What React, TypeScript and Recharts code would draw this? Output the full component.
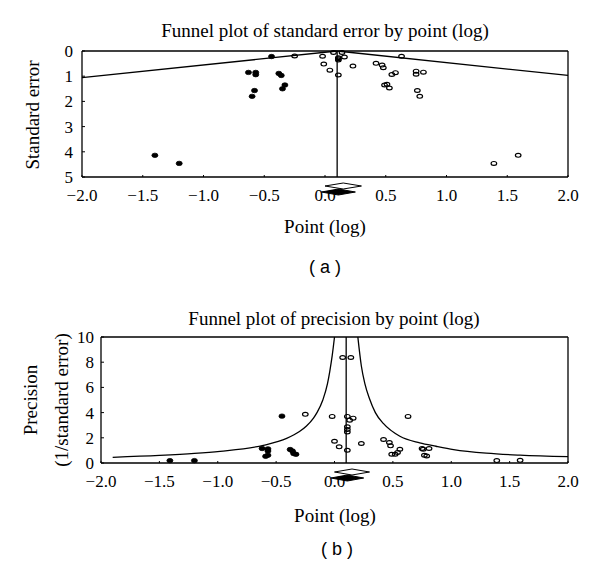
import React from "react";
import { ComposedChart, Scatter, XAxis, YAxis, ReferenceLine } from "recharts";

// panel (a): point (log) vs standard error
const seObserved: [number, number][] = [
  [-0.25, 0.2], [-0.02, 0.21], [0.07, 0.06], [0.14, 0.06], [0.16, 0.24],
  [0.11, 0.27], [0.11, 0.31], [0.11, 0.36], [0.63, 0.21], [-0.01, 0.52],
  [0.04, 0.76], [0.11, 0.95], [0.23, 0.6], [0.42, 0.49], [0.47, 0.56],
  [0.48, 0.66], [0.55, 0.93], [0.58, 0.86], [0.75, 0.8], [0.75, 0.92],
  [0.81, 0.84], [0.49, 1.35], [0.51, 1.32], [0.53, 1.47], [0.76, 1.57],
  [0.78, 1.8], [1.39, 4.46], [1.59, 4.14],
];
const seImputed: [number, number][] = [
  [-0.44, 0.22], [-0.63, 0.85], [-0.57, 0.85], [-0.57, 0.94], [-0.38, 0.89],
  [-0.36, 0.97], [-0.33, 1.35], [-0.35, 1.5], [-0.58, 1.57], [-0.6, 1.8],
  [-1.4, 4.14], [-1.2, 4.46],
];
const seFunnelLeft: [number, number][] = [[-2.0, 1.06], [0.1, 0]];
const seFunnelRight: [number, number][] = [[0.1, 0], [2.0, 0.97]];

// panel (b): point (log) vs precision
const precObserved: [number, number][] = [
  [0.07, 8.37], [0.14, 8.37], [-0.25, 3.86], [-0.02, 3.7], [0.11, 3.7],
  [0.16, 3.56], [0.13, 3.4], [0.63, 3.7], [0.11, 2.87], [0.11, 2.66],
  [0.11, 2.47], [0.0, 1.73], [0.04, 1.28], [0.11, 1.01], [0.23, 1.55],
  [0.42, 1.87], [0.47, 1.63], [0.48, 1.36], [0.49, 0.69], [0.52, 0.69],
  [0.54, 0.83], [0.56, 1.09], [0.75, 1.15], [0.76, 1.09], [0.81, 1.15],
  [0.77, 0.61], [0.79, 0.55], [1.39, 0.19], [1.59, 0.21],
];
const precImputed: [number, number][] = [
  [-0.45, 3.72], [-0.62, 1.15], [-0.57, 1.12], [-0.57, 0.95], [-0.59, 0.53],
  [-0.57, 0.62], [-0.38, 1.07], [-0.36, 0.95], [-0.33, 0.69], [-0.35, 0.75],
  [-1.41, 0.19], [-1.2, 0.19],
];
const precFunnelLeft: [number, number][] = [
  [-1.9, 0.45], [-1.5, 0.6], [-1.2, 0.76], [-0.98, 0.93], [-0.61, 1.4],
  [-0.41, 1.95], [-0.3, 2.5], [-0.24, 2.94], [-0.18, 3.57], [-0.15, 4.0],
  [-0.1, 5.0], [-0.06, 6.3], [-0.04, 7.3], [-0.02, 8.5], [0.0, 10],
];
const precFunnelRight: [number, number][] = [
  [0.2, 10], [0.23, 7.7], [0.26, 6.3], [0.3, 5.1], [0.35, 4.0], [0.42, 3.12],
  [0.56, 2.12], [0.73, 1.6], [0.87, 1.33], [1.02, 1.07], [1.3, 0.78],
  [1.59, 0.62], [2.0, 0.5],
];

// summary diamonds [lower, estimate, upper]
const pooledObserved = [0.0, 0.15, 0.3];
const pooledAdjusted = [-0.03, 0.11, 0.25];
const pooledLine = 0.1;

const xTicks = [-2, -1.5, -1, -0.5, 0, 0.5, 1, 1.5, 2];
const seTicks = [0, 1, 2, 3, 4, 5];
const precTicks = [0, 2, 4, 6, 8, 10];

const SERIF = "'Liberation Serif', 'Times New Roman', serif";
const SANS = "'Liberation Sans', Arial, sans-serif";

const pts = (arr: [number, number][]) => arr.map(([x, y]) => ({ x, y }));
const fmtX = (v: number) => (v < 0 ? `\u2212${Math.abs(v).toFixed(1)}` : v.toFixed(1));

const OpenDot = (p: any) => (
  <ellipse cx={p.cx} cy={p.cy} rx={2.8} ry={1.9} fill="none" stroke="#000" strokeWidth={1.2} />
);
const FilledDot = (p: any) => (
  <ellipse cx={p.cx} cy={p.cy} rx={3} ry={2.2} fill="#000" stroke="#000" strokeWidth={0.8} />
);
const NoDot = () => <g />;

function diamond(offset: number, filled: boolean) {
  return (props: any) => {
    const p = props.points;
    if (!p || p.length < 3) return <g />;
    const y = p[0].y + offset;
    const h = 3;
    return (
      <polygon
        points={`${p[0].x},${y} ${p[1].x},${y - h} ${p[2].x},${y} ${p[1].x},${y + h}`}
        fill={filled ? "#000" : "#fff"}
        stroke="#000"
        strokeWidth={1}
      />
    );
  };
}

const lineStyle = { stroke: "#000", strokeWidth: 1.3 };

function Label({ x, y, size = 19, rotate = false, font = SERIF, children }: any) {
  return (
    <div
      style={{
        position: "absolute",
        left: x,
        top: y,
        transform: `translate(-50%, -50%)${rotate ? " rotate(-90deg)" : ""}`,
        fontFamily: font,
        fontSize: size,
        lineHeight: 1,
        whiteSpace: "pre",
        color: "#000",
      }}
    >
      {children}
    </div>
  );
}

function Panel({
  yDomain, yTicks, reversed, yWidth, yTickMargin, observed, imputed, left, right, smooth, baseY,
}: any) {
  return (
    <ComposedChart width={600} height={285} margin={{ top: 52, right: 32, bottom: 77, left: 0 }}>
      <XAxis
        type="number"
        dataKey="x"
        domain={[-2, 2]}
        ticks={xTicks}
        interval={0}
        tickFormatter={fmtX}
        height={30}
        tickSize={-2}
        tickMargin={14}
        axisLine={lineStyle}
        tickLine={{ stroke: "#000" }}
        tick={{ fill: "#000", fontSize: 17, fontFamily: SERIF }}
      />
      <YAxis
        type="number"
        dataKey="y"
        domain={yDomain}
        ticks={yTicks}
        interval={0}
        reversed={reversed}
        width={yWidth}
        tickSize={-3}
        tickMargin={yTickMargin}
        axisLine={lineStyle}
        tickLine={{ stroke: "#000" }}
        tick={{ fill: "#000", fontSize: 17, fontFamily: SERIF }}
      />
      <ReferenceLine y={reversed ? yDomain[0] : yDomain[1]} stroke="#000" strokeWidth={1.3} />
      <ReferenceLine x={2} stroke="#000" strokeWidth={1.3} />
      <ReferenceLine x={pooledLine} stroke="#000" strokeWidth={1.3} />
      <Scatter data={pts(left)} shape={NoDot} line={lineStyle} lineJointType={smooth ? "monotoneX" : "linear"} isAnimationActive={false} />
      <Scatter data={pts(right)} shape={NoDot} line={lineStyle} lineJointType={smooth ? "monotoneX" : "linear"} isAnimationActive={false} />
      <Scatter data={pts(observed)} shape={OpenDot} isAnimationActive={false} />
      <Scatter data={pts(imputed)} shape={FilledDot} isAnimationActive={false} />
      <Scatter
        data={pooledObserved.map((x) => ({ x, y: baseY }))}
        shape={NoDot}
        line={diamond(9, false)}
        isAnimationActive={false}
      />
      <Scatter
        data={pooledAdjusted.map((x) => ({ x, y: baseY }))}
        shape={NoDot}
        line={diamond(15, true)}
        isAnimationActive={false}
      />
    </ComposedChart>
  );
}

export default function App() {
  return (
    <div style={{ position: "absolute", left: 0, top: 0, width: 600, height: 570, background: "#fff" }}>
      <div style={{ position: "absolute", left: 0, top: -1 }}>
        <Panel
          yDomain={[0, 5]}
          yTicks={seTicks}
          reversed
          yWidth={82}
          yTickMargin={12}
          observed={seObserved}
          imputed={seImputed}
          left={seFunnelLeft}
          right={seFunnelRight}
          smooth={false}
          baseY={5}
        />
      </div>
      <div style={{ position: "absolute", left: 0, top: 285 }}>
        <Panel
          yDomain={[0, 10]}
          yTicks={precTicks}
          reversed={false}
          yWidth={101}
          yTickMargin={10}
          observed={precObserved}
          imputed={precImputed}
          left={precFunnelLeft}
          right={precFunnelRight}
          smooth
          baseY={0}
        />
      </div>

      <Label x={325} y={30}>Funnel plot of standard error by point (log)</Label>
      <Label x={32} y={115} rotate>Standard error</Label>
      <Label x={325} y={226}>Point (log)</Label>
      <Label x={325} y={267} size={18} font={SANS}>( a )</Label>

      <Label x={334} y={318}>Funnel plot of precision by point (log)</Label>
      <Label x={30} y={400} rotate>Precision</Label>
      <Label x={61} y={400} rotate>(1/standard error)</Label>
      <Label x={335} y={515}>Point (log)</Label>
      <Label x={337} y={549} size={18} font={SANS}>( b )</Label>
    </div>
  );
}
